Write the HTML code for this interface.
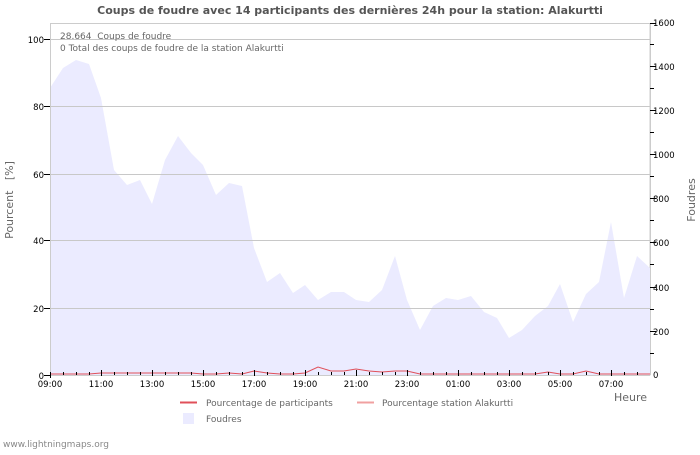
<!DOCTYPE html>
<html><head><meta charset="utf-8"><style>
body{margin:0;background:#fff;}
svg text{font-family:"DejaVu Sans","Liberation Sans",sans-serif;}
</style></head><body>
<svg width="700" height="450" viewBox="0 0 700 450" xmlns="http://www.w3.org/2000/svg">
<rect width="700" height="450" fill="#fff"/>
<text x="350" y="14" text-anchor="middle" font-size="11" font-weight="bold" fill="#555">Coups de foudre avec 14 participants des dernières 24h pour la station: Alakurtti</text>
<rect x="50.5" y="23.5" width="599.5" height="351.5" fill="#fff" stroke="#ccc"/>
<polygon fill="#ebebff" points="50,375 50,88 63,68 76,60 89,64 101,98 114,170 127,185 140,180 152,204 165,160 178,136 191,153 203,165 216,195 229,183 242,186 254,248 267,282 280,273 293,293 305,285 318,300 331,292 344,292 356,300 369,302 382,290 395,256 407,300 420,330 433,306 446,298 458,300 471,296 484,312 497,318 509,338 522,330 535,316 548,306 560,284 573,322 586,294 599,282 611,222 624,298 637,256 650,268 650,375"/>
<g stroke="#c8c8c8" stroke-width="1">
<line x1="50" y1="39.5" x2="650" y2="39.5"/><line x1="50" y1="106.5" x2="650" y2="106.5"/><line x1="50" y1="174.5" x2="650" y2="174.5"/><line x1="50" y1="240.5" x2="650" y2="240.5"/><line x1="50" y1="308.5" x2="650" y2="308.5"/>
</g>
<line x1="50.5" y1="23" x2="50.5" y2="375" stroke="#ccc"/>
<line x1="650.5" y1="23" x2="650.5" y2="375" stroke="#ccc"/>
<line x1="50" y1="375.5" x2="650" y2="375.5" stroke="#ccc"/>
<polyline fill="none" stroke="#e0505a" stroke-width="1" points="50,374 63,374 76,374 89,374 101,373 114,373 127,373 140,373 152,373 165,373 178,373 191,373 203,374 216,374 229,373 242,374 254,371 267,373 280,374 293,374 305,373 318,367 331,371 344,371 356,369 369,371 382,372 395,371 407,371 420,374 433,374 446,374 458,374 471,374 484,374 497,374 509,374 522,374 535,374 548,372 560,374 573,374 586,371 599,374 611,374 624,374 637,374 650,374"/>
<g stroke="#000" stroke-width="1">
<path d="M44,39.5h6M44,106.5h6M44,174.5h6M44,240.5h6M44,308.5h6M44,375.5h6"/>
<path d="M650,23.5h6M650,44.5h4M650,66.5h6M650,88.5h4M650,110.5h6M650,132.5h4M650,154.5h6M650,176.5h4M650,198.5h6M650,220.5h4M650,242.5h6M650,264.5h4M650,287.5h6M650,309.5h4M650,331.5h6M650,353.5h4"/>
<path d="M50.5,372v6M63.5,372v3M76.5,372v3M89.5,372v3M101.5,370v6M114.5,372v3M127.5,372v3M140.5,372v3M152.5,370v6M165.5,372v3M178.5,372v3M191.5,372v3M203.5,370v6M216.5,372v3M229.5,372v3M242.5,372v3M254.5,370v6M267.5,372v3M280.5,372v3M293.5,372v3M305.5,370v6M318.5,372v3M331.5,372v3M344.5,372v3M356.5,370v6M369.5,372v3M382.5,372v3M395.5,372v3M407.5,370v6M420.5,372v3M433.5,372v3M446.5,372v3M458.5,370v6M471.5,372v3M484.5,372v3M497.5,372v3M509.5,370v6M522.5,372v3M535.5,372v3M548.5,372v3M560.5,370v6M573.5,372v3M586.5,372v3M599.5,372v3M611.5,370v6M624.5,372v3M637.5,372v3"/>
</g>
<g font-size="8.5" fill="#000" text-anchor="end">
<text x="44" y="43">100</text><text x="44" y="110">80</text><text x="44" y="178">60</text><text x="44" y="244">40</text><text x="44" y="312">20</text><text x="44" y="379">0</text>
</g>
<g font-size="8.5" fill="#000">
<text x="653" y="26">1600</text><text x="653" y="70">1400</text><text x="653" y="114">1200</text><text x="653" y="158">1000</text><text x="653" y="202">800</text><text x="653" y="246">600</text><text x="653" y="291">400</text><text x="653" y="335">200</text><text x="653" y="378">0</text>
</g>
<g font-size="8.5" fill="#000" text-anchor="middle">
<text x="50" y="387">09:00</text><text x="101" y="387">11:00</text><text x="152" y="387">13:00</text><text x="203" y="387">15:00</text><text x="254" y="387">17:00</text><text x="305" y="387">19:00</text><text x="356" y="387">21:00</text><text x="407" y="387">23:00</text><text x="458" y="387">01:00</text><text x="509" y="387">03:00</text><text x="560" y="387">05:00</text><text x="611" y="387">07:00</text>
</g>
<text x="647" y="401" font-size="11" fill="#666" text-anchor="end">Heure</text>
<text transform="translate(13,200) rotate(-90)" font-size="11" fill="#666" text-anchor="middle" xml:space="preserve">Pourcent   [%]</text>
<text transform="translate(695,200) rotate(-90)" font-size="11" fill="#666" text-anchor="middle">Foudres</text>
<text x="60" y="39" font-size="9" fill="#666" xml:space="preserve">28.664  Coups de foudre</text>
<text x="60" y="51" font-size="9" fill="#666">0 Total des coups de foudre de la station Alakurtti</text>
<line x1="180" y1="402.5" x2="197" y2="402.5" stroke="#e0505a" stroke-width="2"/>
<text x="206" y="406" font-size="9" fill="#666">Pourcentage de participants</text>
<line x1="357" y1="402.5" x2="374" y2="402.5" stroke="#f0a0a0" stroke-width="2"/>
<text x="382" y="406" font-size="9" fill="#666">Pourcentage station Alakurtti</text>
<rect x="183" y="413" width="11" height="11" fill="#ebebff"/>
<text x="206" y="422" font-size="9" fill="#666">Foudres</text>
<text x="3" y="447" font-size="9" fill="#888">www.lightningmaps.org</text>
</svg>
</body></html>
